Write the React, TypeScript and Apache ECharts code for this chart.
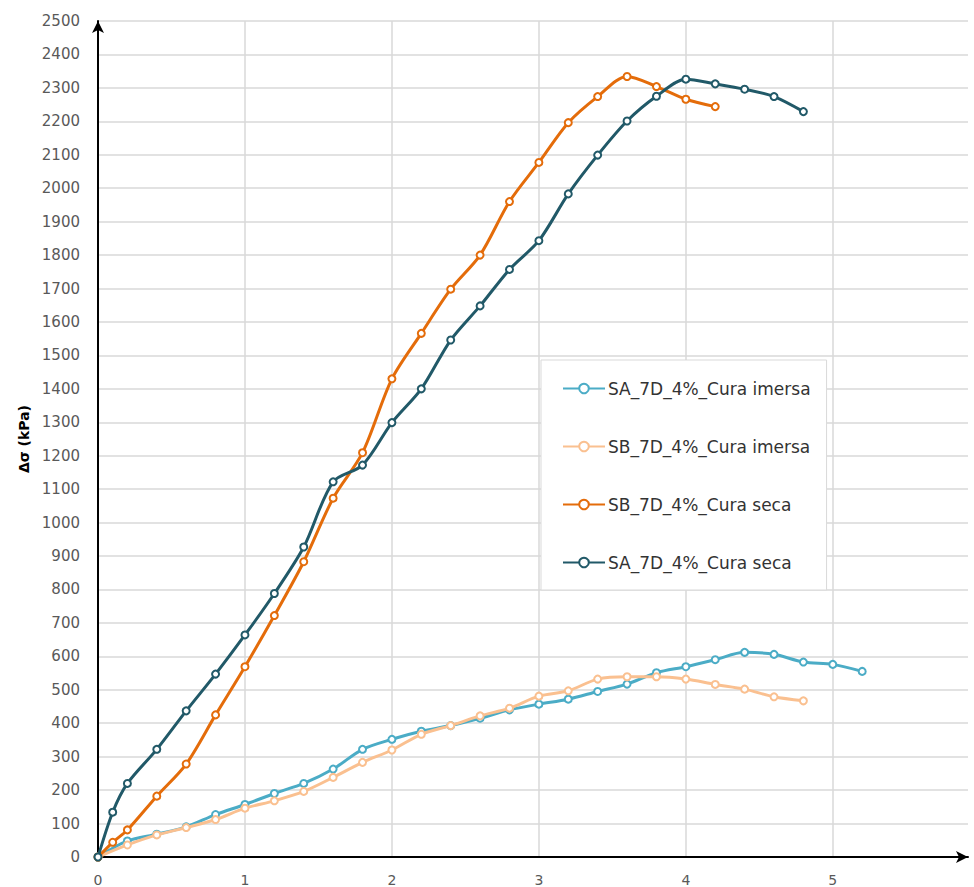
import React, { useEffect, useRef } from "react";
import * as echarts from "echarts";

const legendNames = [
  "SA_7D_4%_Cura imersa",
  "SB_7D_4%_Cura imersa",
  "SB_7D_4%_Cura seca",
  "SA_7D_4%_Cura seca",
];

const saImersaX = [0, 0.2, 0.4, 0.6, 0.8, 1.0, 1.2, 1.4, 1.6, 1.8, 2.0, 2.2, 2.4, 2.6, 2.8, 3.0, 3.2, 3.4, 3.6, 3.8, 4.0, 4.2, 4.4, 4.6, 4.8, 5.0, 5.2];
const saImersaY = [0, 48, 68, 90, 127, 157, 190, 220, 263, 322, 352, 376, 393, 415, 440, 457, 472, 495, 517, 551, 569, 590, 612, 606, 583, 576, 555];

const sbImersaX = [0, 0.2, 0.4, 0.6, 0.8, 1.0, 1.2, 1.4, 1.6, 1.8, 2.0, 2.2, 2.4, 2.6, 2.8, 3.0, 3.2, 3.4, 3.6, 3.8, 4.0, 4.2, 4.4, 4.6, 4.8];
const sbImersaY = [0, 36, 66, 88, 112, 146, 168, 196, 238, 283, 320, 367, 393, 422, 445, 481, 497, 532, 539, 539, 532, 516, 502, 479, 467];

const sbSecaX = [0, 0.1, 0.2, 0.4, 0.6, 0.8, 1.0, 1.2, 1.4, 1.6, 1.8, 2.0, 2.2, 2.4, 2.6, 2.8, 3.0, 3.2, 3.4, 3.6, 3.8, 4.0, 4.2];
const sbSecaY = [0, 44, 81, 182, 278, 425, 569, 722, 883, 1073, 1209, 1430, 1566, 1698, 1800, 1960, 2077, 2196, 2274, 2334, 2304, 2266, 2244];

const saSecaX = [0, 0.1, 0.2, 0.4, 0.6, 0.8, 1.0, 1.2, 1.4, 1.6, 1.8, 2.0, 2.2, 2.4, 2.6, 2.8, 3.0, 3.2, 3.4, 3.6, 3.8, 4.0, 4.2, 4.4, 4.6, 4.8];
const saSecaY = [0, 134, 220, 322, 437, 547, 664, 788, 927, 1122, 1172, 1299, 1400, 1546, 1648, 1757, 1843, 1983, 2099, 2201, 2275, 2326, 2312, 2296, 2274, 2229];

const seriesColors = ["#4bacc6", "#fac090", "#e46c0a", "#215968"];

const zip = (xs: number[], ys: number[]) => xs.map((x, i) => [x, ys[i]]);

export default function App() {
  const ref = useRef<HTMLDivElement>(null);
  useEffect(() => {
    if (!ref.current) return;
    const chart = echarts.init(ref.current, null, { renderer: "svg" });
    const datasets = [
      zip(saImersaX, saImersaY),
      zip(sbImersaX, sbImersaY),
      zip(sbSecaX, sbSecaY),
      zip(saSecaX, saSecaY),
    ];
    const font = "DejaVu Sans";
    chart.setOption({
      animation: false,
      backgroundColor: "#ffffff",
      grid: { left: 98, top: 21, right: 6, bottom: 25, containLabel: false },
      xAxis: {
        type: "value",
        min: 0,
        max: 5.92,
        interval: 1,
        axisLine: {
          show: true,
          symbol: ["none", "arrow"],
          symbolSize: [9, 12],
          lineStyle: { color: "#000000", width: 2 },
        },
        axisTick: { show: false },
        axisLabel: {
          margin: 16,
          fontFamily: font,
          fontSize: 14,
          color: "#595959",
          showMaxLabel: false,
        },
        splitLine: {
          show: true,
          lineStyle: {
            color: ["#d9d9d9", "#d9d9d9", "#d9d9d9", "#d9d9d9", "#d9d9d9", "#d9d9d9", "rgba(0,0,0,0)"],
            width: 1.5,
          },
        },
      },
      yAxis: {
        type: "value",
        min: 0,
        max: 2500,
        interval: 100,
        name: "Δσ (kPa)",
        nameLocation: "middle",
        nameGap: 63,
        nameTextStyle: { fontFamily: font, fontSize: 14, fontWeight: "bold", color: "#000000" },
        axisLine: {
          show: true,
          symbol: ["none", "arrow"],
          symbolSize: [9, 12],
          lineStyle: { color: "#000000", width: 2 },
        },
        axisTick: { show: false },
        axisLabel: {
          margin: 18,
          fontFamily: font,
          fontSize: 15,
          color: "#595959",
          formatter: (v: number) => String(v),
        },
        splitLine: { show: true, lineStyle: { color: "#d9d9d9", width: 1.5 } },
      },
      legend: {
        orient: "vertical",
        left: 541,
        top: 360,
        data: legendNames,
        itemWidth: 42,
        itemHeight: 12,
        itemGap: 41,
        padding: [20, 16, 19, 21],
        backgroundColor: "#ffffff",
        borderColor: "#d9d9d9",
        borderWidth: 1,
        borderRadius: 0,
        textStyle: { fontFamily: font, fontSize: 17, color: "#333333", padding: [0, 0, 0, -2] },
      },
      series: legendNames.map((name, i) => ({
        name,
        type: "line",
        data: datasets[i],
        smooth: 0.3,
        symbol: "emptyCircle",
        symbolSize: 7,
        showSymbol: true,
        lineStyle: { color: seriesColors[i], width: 3 },
        itemStyle: { color: seriesColors[i], borderWidth: 1.5 },
        z: 2 + i,
      })),
    });
    return () => chart.dispose();
  }, []);
  return (
    <div
      ref={ref}
      style={{ position: "fixed", left: 0, top: 0, width: 974, height: 887 }}
    />
  );
}
